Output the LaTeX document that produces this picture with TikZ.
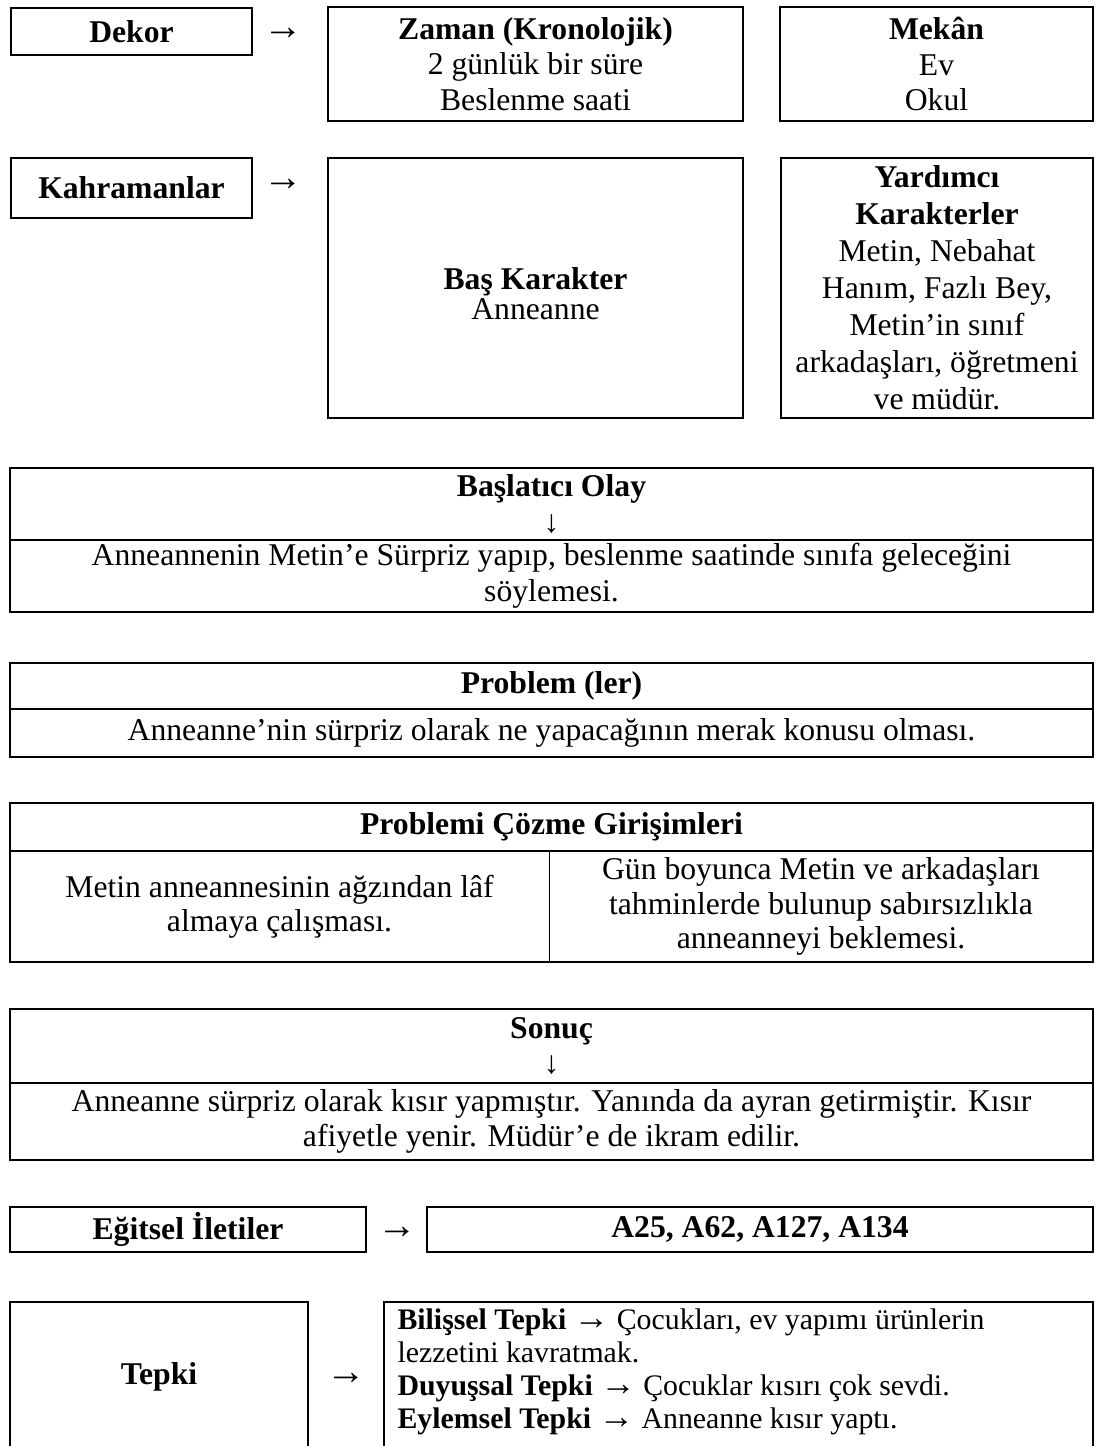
\documentclass[tikz,border=0pt]{standalone}
\usepackage{fontspec}
\setmainfont{Liberation Serif}
\usetikzlibrary{fit}
\begin{document}
\begin{tikzpicture}[x=0.379pt,y=-0.379pt,
  box/.style={draw, line width=0.7pt, inner sep=0pt},
  cellbox/.style={inner sep=0pt},
  lbl/.style={inner sep=0pt, align=center, font=\fontsize{12pt}{13.5pt}\selectfont},
  arr/.style={inner sep=0pt, font=\fontsize{15pt}{15pt}\selectfont},
  thinrule/.style={line width=0.4pt}]
\useasboundingbox (0,0) rectangle (1096,1446);
\clip (0,0) rectangle (1096,1446);
\newcommand{\sarr}{{\fontsize{13.5pt}{12.5pt}\selectfont →}}

% Row 1: Dekor
\node[box, fit={(11,8)(252,55)}] (dekor) {};
\node[lbl] (dekort) at (dekor.center) {\textbf{Dekor}};
\node[arr] (ar1) at (283,34) {→};
\node[box, fit={(328,7)(743,121)}] (zaman) {};
\node[lbl, font=\fontsize{12pt}{13.4pt}\selectfont] (zamant) at (zaman.center) {\textbf{Zaman (Kronolojik)}\\2 günlük bir süre\\Beslenme saati};
\node[box, fit={(780,7)(1093,121)}] (mekan) {};
\node[lbl, font=\fontsize{12pt}{13.4pt}\selectfont] (mekant) at (mekan.center) {\textbf{Mekân}\\Ev\\Okul};

% Row 2: Kahramanlar
\node[box, fit={(11,158)(252,218)}] (kahr) {};
\node[lbl] (kahrt) at (kahr.center) {\textbf{Kahramanlar}};
\node[arr] (ar2) at (283,185) {→};
\node[box, fit={(328,158)(743,418)}] (bas) {};
\node[lbl, font=\fontsize{12pt}{9.8pt}\selectfont] (bast) at ([yshift=-2.2pt]bas.center) {\textbf{Baş Karakter}\\Anneanne};
\node[box, fit={(781,158)(1093,418)}] (yard) {};
\node[lbl, font=\fontsize{12pt}{14pt}\selectfont] (yardt) at (yard.center) {\textbf{Yardımcı}\\\textbf{Karakterler}\\Metin, Nebahat\\Hanım, Fazlı Bey,\\Metin’in sınıf\\arkadaşları, öğretmeni\\ve müdür.};

% Başlatıcı Olay
\node[box, fit={(10,468)(1093,540)}] (olayh) {};
\node[lbl] (olayht) at (olayh.center) {\textbf{Başlatıcı Olay}\\↓};
\node[box, fit={(10,540)(1093,612)}] (olayt) {};
\node[lbl] (olaytt) at (olayt.center) {Anneannenin Metin’e Sürpriz yapıp, beslenme saatinde sınıfa geleceğini\\söylemesi.};

% Problem
\node[box, fit={(10,663)(1093,709)}] (probh) {};
\node[lbl] (probht) at (probh.center) {\textbf{Problem (ler)}};
\node[box, fit={(10,709)(1093,757)}] (probt) {};
\node[lbl] (probtt) at (probt.center) {Anneanne’nin sürpriz olarak ne yapacağının merak konusu olması.};

% Problemi Çözme Girişimleri
\node[box, fit={(10,803)(1093,851)}] (cozh) {};
\node[lbl] (cozht) at (cozh.center) {\textbf{Problemi Çözme Girişimleri}};
\node[box, fit={(10,851)(1093,962)}] (cozb) {};
\node[cellbox, fit={(10,851)(549,962)}] (cozl) {};
\node[cellbox, fit={(549,851)(1093,962)}] (cozr) {};
\node[lbl, font=\fontsize{12pt}{13pt}\selectfont] (cozlt) at (cozl.center) {Metin anneannesinin ağzından lâf\\almaya çalışması.};
\node[lbl, font=\fontsize{12pt}{13pt}\selectfont] (cozrt) at (cozr.center) {Gün boyunca Metin ve arkadaşları\\tahminlerde bulunup sabırsızlıkla\\anneanneyi beklemesi.};
\draw[thinrule] (cozl.north east) -- (cozl.south east);

% Sonuç
\node[box, fit={(10,1009)(1093,1083)}] (sonh) {};
\node[lbl] (sonht) at (sonh.center) {\textbf{Sonuç}\\↓};
\node[box, fit={(10,1083)(1093,1160)}] (sont) {};
\node[lbl] (sontt) at (sont.center) {Anneanne sürpriz olarak kısır yapmıştır. Yanında da ayran getirmiştir. Kısır\\afiyetle yenir. Müdür’e de ikram edilir.};

% Eğitsel İletiler
\node[box, fit={(10,1207)(366,1252)}] (egit) {};
\node[lbl] (egitt) at (egit.center) {\textbf{Eğitsel İletiler}};
\node[arr] (ar3) at (397,1233) {→};
\node[box, fit={(427,1207)(1093,1252)}] (kodlar) {};
\node[lbl] (kodlart) at (kodlar.center) {\textbf{A25, A62, A127, A134}};

% Tepki
\node[box, fit={(10,1302)(308,1480)}] (tepkil) {};
\node[lbl] (tepkilab) at (159,1377) {\textbf{Tepki}};
\node[arr] (ar4) at (346,1379) {→};
\node[box, fit={(384,1302)(1093,1480)}] (tepkir) {};
\node[anchor=north west, inner sep=0pt, align=left,
  font=\fontsize{11.3pt}{12.5pt}\selectfont] (tepkit) at (397,1308)
  {\textbf{Bilişsel Tepki} \sarr{} Çocukları, ev yapımı ürünlerin\\
   lezzetini kavratmak.\\
   \textbf{Duyuşsal Tepki} \sarr{} Çocuklar kısırı çok sevdi.\\
   \textbf{Eylemsel Tepki} \sarr{} Anneanne kısır yaptı.};
\end{tikzpicture}
\end{document}
